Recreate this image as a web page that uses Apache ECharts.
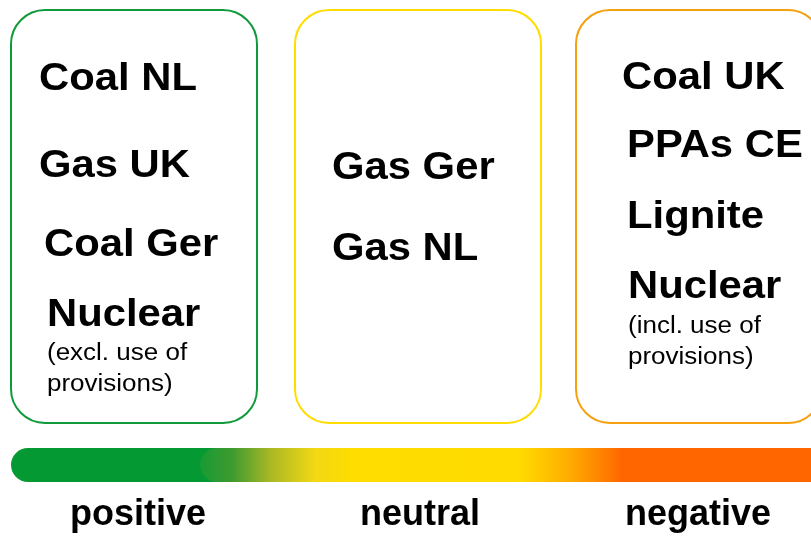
<!DOCTYPE html>
<html>
<head>
<meta charset="utf-8">
<script src="https://cdn.jsdelivr.net/npm/echarts@6/dist/echarts.min.js"></script>
<style>html,body{margin:0;padding:0;background:#fff;}#c{width:811px;height:537px;}</style>
</head>
<body>
<div id="c"></div>
<script>
// Items per category (text content)
var positiveItems = ['Coal NL', 'Gas UK', 'Coal Ger', 'Nuclear'];
var positiveNote = ['(excl. use of', 'provisions)'];
var neutralItems = ['Gas Ger', 'Gas NL'];
var negativeItems = ['Coal UK', 'PPAs CE', 'Lignite', 'Nuclear'];
var negativeNote = ['(incl. use of', 'provisions)'];
var scaleLabels = ['positive', 'neutral', 'negative'];

var FONT = '"Liberation Sans", Arial, Helvetica, sans-serif';
var chart = echarts.init(document.getElementById('c'), null, {renderer: 'canvas'});

function box(x, color) {
  return {type: 'rect', shape: {x: x, y: 10, width: 246, height: 413, r: 34},
          style: {fill: '#fff', stroke: color, lineWidth: 2}};
}
function txt(s, x, y, size, bold, sx) {
  return {type: 'text', x: x, y: y, scaleX: sx,
          style: {text: s, fill: '#000', fontSize: size, fontWeight: bold ? 'bold' : 'normal',
                  fontFamily: FONT, verticalAlign: 'middle', align: 'left'}};
}
function ctxt(s, x, y, size) {
  return {type: 'text', x: x, y: y,
          style: {text: s, fill: '#000', fontSize: size, fontWeight: 'bold',
                  fontFamily: FONT, verticalAlign: 'middle', align: 'center'}};
}

var els = [];
els.push(box(11, '#119a3c'));
els.push(box(295, '#ffdd00'));
els.push(box(576, '#f5a00f'));

var H = 38, HS = 1.1, N = 23, NS = 1.13;
var posPos = [[39, 80], [39, 167], [44, 246], [47, 316]];
positiveItems.forEach(function (s, i) { els.push(txt(s, posPos[i][0], posPos[i][1], H, true, HS)); });
els.push(txt(positiveNote[0], 47, 354, N, false, NS));
els.push(txt(positiveNote[1], 47, 385, N, false, NS));

var neuPos = [[332, 169], [332, 250]];
neutralItems.forEach(function (s, i) { els.push(txt(s, neuPos[i][0], neuPos[i][1], H, true, HS)); });

var negPos = [[622, 79], [627, 147], [627, 218], [628, 288]];
negativeItems.forEach(function (s, i) { els.push(txt(s, negPos[i][0], negPos[i][1], H, true, HS)); });
els.push(txt(negativeNote[0], 628, 327, N, false, NS));
els.push(txt(negativeNote[1], 628, 358, N, false, NS));

// scale bar
els.push({type: 'rect', shape: {x: 11, y: 448, width: 260, height: 34, r: 17}, style: {fill: '#059933'}});
els.push({type: 'rect', shape: {x: 200, y: 448, width: 640, height: 34, r: 17},
  style: {fill: new echarts.graphic.LinearGradient(0, 0, 1, 0, [
    {offset: 0, color: '#199a34'},
    {offset: 0.05, color: '#3d9b30'},
    {offset: 0.11, color: '#a9b824'},
    {offset: 0.18, color: '#f3d814'},
    {offset: 0.24, color: '#ffdd00'},
    {offset: 0.50, color: '#ffdb00'},
    {offset: 0.58, color: '#ffaa00'},
    {offset: 0.66, color: '#ff6600'},
    {offset: 1, color: '#ff6600'}
  ])}});

var labelX = [138, 420, 698];
scaleLabels.forEach(function (s, i) { els.push(ctxt(s, labelX[i], 515, 36)); });

chart.setOption({
  backgroundColor: '#fff',
  animation: false,
  graphic: {elements: els}
});
</script>
</body>
</html>
